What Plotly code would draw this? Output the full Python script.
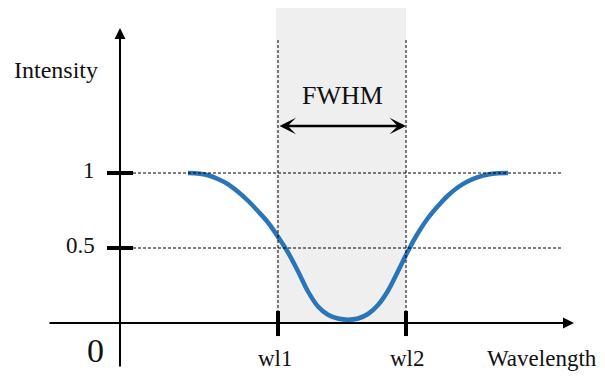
import plotly.graph_objects as go

# ---- data (arbitrary wavelength units, intensity normalised) ----
wavelength = [68, 78, 88, 98, 108, 118, 128, 138, 148, 158, 168, 178, 188, 198,
              208, 218, 228, 238, 248, 258, 268, 278, 288, 298, 308, 318, 328,
              338, 348, 358, 368, 378, 388]
intensity = [1.0, 0.997, 0.985, 0.96, 0.925, 0.875, 0.815, 0.745, 0.67, 0.575,
             0.47, 0.345, 0.21, 0.11, 0.055, 0.03, 0.022, 0.03, 0.06, 0.12,
             0.215, 0.345, 0.48, 0.6, 0.7, 0.78, 0.85, 0.905, 0.945, 0.972,
             0.99, 0.998, 1.0]
wl1 = 158
wl2 = 286
y_ticks = [1, 0.5]
y_tick_labels = ["1", "0.5"]
x_tick_labels = ["wl1", "wl2"]

# ---- view (page has an 8px body margin) ----
W, H = 597, 368
X_MIN, X_MAX = -112, 485
Y_MIN, Y_MAX = -0.3533, 2.1
FONT = "Liberation Serif"
BLUE = "#2a74b8"
DASH = "3px,2px"

fig = go.Figure()

# shaded FWHM band
fig.add_shape(type="rect", x0=wl1 - 2, x1=wl2, y0=0, y1=2.107,
              fillcolor="#efefef", line_width=0, layer="below")

# dashed guides
for yv in y_ticks:
    fig.add_shape(type="line", x0=13, x1=443, y0=yv, y1=yv,
                  line=dict(color="#000000", width=1, dash=DASH))
for xv in (wl1, wl2):
    fig.add_shape(type="line", x0=xv, x1=xv, y0=0, y1=1.893,
                  line=dict(color="#000000", width=1, dash=DASH))

# curve
fig.add_trace(go.Scatter(x=wavelength, y=intensity, mode="lines",
                         line=dict(color=BLUE, width=4.5, shape="spline", smoothing=1),
                         hoverinfo="skip", showlegend=False))

# axes with arrows
fig.add_annotation(x=0, y=1.967, ax=0, ay=-0.3, xref="x", yref="y", axref="x", ayref="y",
                   text="", showarrow=True, arrowhead=2, arrowsize=1.1, arrowwidth=2,
                   arrowcolor="black", standoff=0)
fig.add_annotation(x=454, y=0, ax=-72, ay=0, xref="x", yref="y", axref="x", ayref="y",
                   text="", showarrow=True, arrowhead=2, arrowsize=1.1, arrowwidth=2,
                   arrowcolor="black", standoff=0)

# ticks
for yv in y_ticks:
    fig.add_shape(type="line", x0=-13, x1=13, y0=yv, y1=yv,
                  line=dict(color="black", width=4))
for xv in (wl1, wl2):
    fig.add_shape(type="line", x0=xv, x1=xv, y0=0.08, y1=-0.087,
                  line=dict(color="black", width=4))

# FWHM double arrow
fig.add_annotation(x=wl2, y=1.313, ax=wl1, ay=1.313, xref="x", yref="y", axref="x", ayref="y",
                   text="", showarrow=True, arrowhead=3, startarrowhead=3,
                   arrowside="end+start", arrowsize=1.1, startarrowsize=1.1,
                   arrowwidth=2.5, arrowcolor="black", standoff=0, startstandoff=0)

def label(text, x, y, size=23, xanchor="center"):
    fig.add_annotation(x=x, y=y, xref="x", yref="y", text=text, showarrow=False,
                       xanchor=xanchor, yanchor="middle",
                       font=dict(family=FONT, size=size, color="#111111"))

label("Intensity", -64, 1.69, size=24)
label("FWHM", (wl1 + wl2) / 2, 1.52, size=26)
for yv, t in zip(y_ticks, y_tick_labels):
    label(t, -23, yv + 0.02, xanchor="right")
label("0", -25, -0.18, size=34)
for xv, t in zip((wl1 - 3, wl2 + 1), x_tick_labels):
    label(t, xv, -0.235)
label("Wavelength", 422, -0.235)

fig.update_layout(
    width=W, height=H, margin=dict(l=0, r=0, t=0, b=0),
    paper_bgcolor="white", plot_bgcolor="white",
    xaxis=dict(range=[X_MIN, X_MAX], visible=False, showgrid=False, zeroline=False),
    yaxis=dict(range=[Y_MIN, Y_MAX], visible=False, showgrid=False, zeroline=False),
    showlegend=False,
)

fig.write_html("out.html")
